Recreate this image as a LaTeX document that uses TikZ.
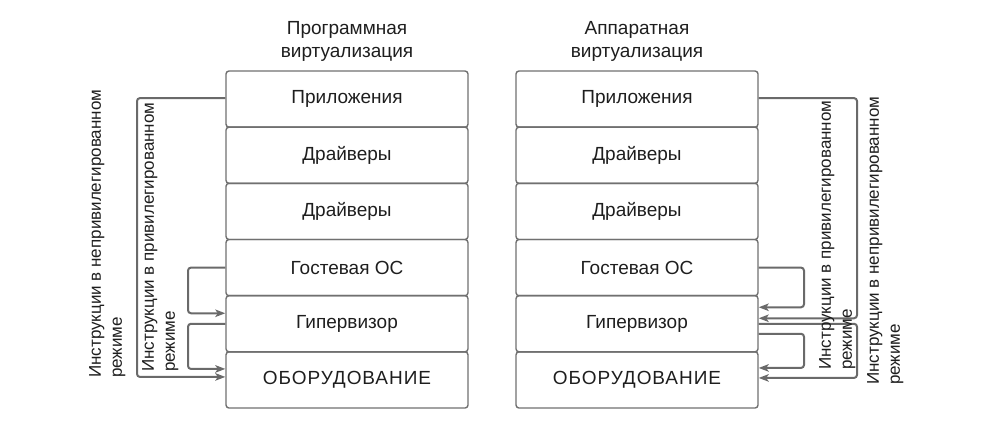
\documentclass[tikz,border=0pt]{standalone}
\usepackage{fontspec}
\setmainfont{Liberation Sans}
\usetikzlibrary{arrows.meta,calc}
\definecolor{edge}{HTML}{707070}
\definecolor{conc}{HTML}{6A6A6A}
\definecolor{txt}{HTML}{1E1E1E}
\tikzset{
  layer/.style={draw=edge, line width=1.4pt, rounded corners=3pt, minimum width=242pt, minimum height=56.17pt, inner sep=0pt, text=txt, font=\fontsize{19}{22}\selectfont},
  title/.style={align=center, text=txt, font=\fontsize{19}{23.5}\selectfont, inner sep=0pt},
  vlabel/.style={rotate=90, align=left, anchor=north west, inner sep=0pt, text=txt, font=\fontsize{17}{21}\selectfont},
  conn/.style={draw=conc, line width=2pt, rounded corners=3pt},
  arr/.style={conn, -{Stealth[length=10pt,width=7.5pt,inset=2.5pt]}}
}
\begin{document}
\begin{tikzpicture}[x=1pt,y=1pt]
\useasboundingbox (0,0) rectangle (1003,-429);
% titles
\node[title] (tL) at (347,-41.5) {Программная\\виртуализация};
\node[title] (tR) at (637,-41.5) {Аппаратная\\виртуализация};
% left stack
\node[layer] (appL) at (347,-99.08) {Приложения};
\node[layer] (drv1L) at (347,-155.25) {Драйверы};
\node[layer] (drv2L) at (347,-211.42) {Драйверы};
\node[layer] (guestL) at (347,-267.59) {Гостевая ОС};
\node[layer] (hypL) at (347,-323.76) {Гипервизор};
\node[layer] (hwL) at (347,-379.93) {\addfontfeature{LetterSpace=5}ОБОРУДОВАНИЕ};
% right stack
\node[layer] (appR) at (637,-99.08) {Приложения};
\node[layer] (drv1R) at (637,-155.25) {Драйверы};
\node[layer] (drv2R) at (637,-211.42) {Драйверы};
\node[layer] (guestR) at (637,-267.59) {Гостевая ОС};
\node[layer] (hypR) at (637,-323.76) {Гипервизор};
\node[layer] (hwR) at (637,-379.93) {\addfontfeature{LetterSpace=5}ОБОРУДОВАНИЕ};
% x-positions of connector verticals
\coordinate (xLo) at (137,0);
\coordinate (xLi) at (188,0);
\coordinate (xRi) at (804,0);
\coordinate (xRo) at (857,0);
% left connectors
\draw[arr] ([yshift=1pt]appL.west) -- ([yshift=1pt]appL.west -| xLo) |- ([yshift=3pt]hwL.west);
\draw[arr] (guestL.west) -- (guestL.west -| xLi) |- ([yshift=10.5pt]hypL.west);
\draw[arr] (hypL.west) -- (hypL.west -| xLi) |- ([yshift=11pt]hwL.west);
% right connectors
\draw[arr] (guestR.east) -- (guestR.east -| xRi) |- ([yshift=16.5pt]hypR.east);
\draw[arr] ([yshift=1pt]appR.east) -- ([yshift=1pt]appR.east -| xRo) |- ([yshift=5.5pt]hypR.east);
\draw[arr] (hypR.east) -- (hypR.east -| xRo) |- ([yshift=2pt]hwR.east);
\draw[arr] ([yshift=-10pt]hypR.east) -- ([yshift=-10pt]hypR.east -| xRi) |- ([yshift=12pt]hwR.east);
% rotated labels
\node[vlabel] (lLo) at (89,-378) {Инструкции в непривилегированном\\режиме};
\node[vlabel] (lLi) at (142,-372) {Инструкции в привилегированном\\режиме};
\node[vlabel] (lRi) at (819,-370) {Инструкции в привилегированном\\режиме};
\node[vlabel] (lRo) at (867,-385) {Инструкции в непривилегированном\\режиме};
\end{tikzpicture}
\end{document}
